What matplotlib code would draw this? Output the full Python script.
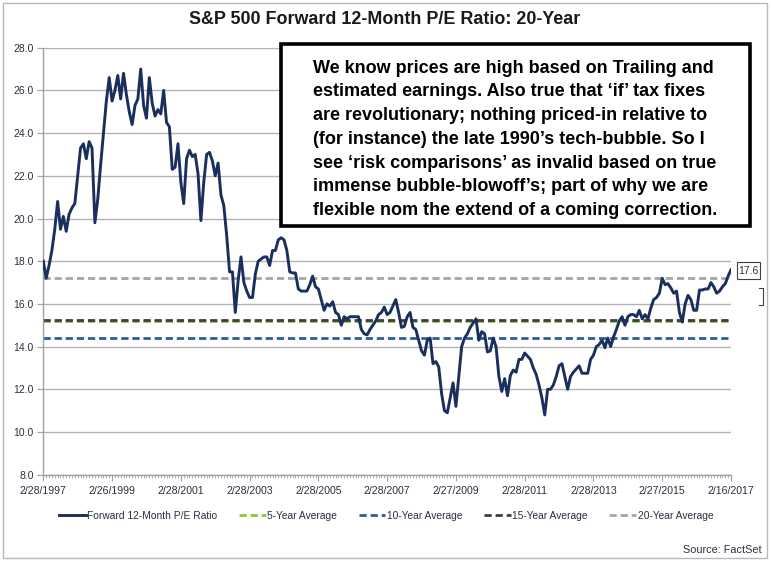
import matplotlib
matplotlib.use("Agg")
import matplotlib.pyplot as plt
from matplotlib.patches import Rectangle
from matplotlib.lines import Line2D

# monthly forward P/E, 2/28/1997 .. 2/16/2017
pe = [
    18.0, 17.2, 17.8, 18.5, 19.5, 20.8, 19.5, 20.1, 19.4, 20.2,
    20.5, 20.7, 22.0, 23.3, 23.5, 22.8, 23.6, 23.3, 19.8, 20.9,
    22.5, 24.0, 25.5, 26.6, 25.5, 26.0, 26.7, 25.6, 26.8, 25.8,
    25.0, 24.4, 25.3, 25.6, 27.0, 25.3, 24.7, 26.6, 25.4, 24.8,
    25.1, 24.9, 26.0, 24.5, 24.3, 22.3, 22.4, 23.5, 21.7, 20.7,
    22.8, 23.2, 22.9, 23.0, 22.1, 19.9, 21.7, 23.0, 23.1, 22.7,
    22.0, 22.6, 21.1, 20.6, 19.2, 17.5, 17.5, 15.6, 17.1, 18.2,
    17.0, 16.6, 16.3, 16.3, 17.4, 18.0, 18.1, 18.2, 18.2, 17.8,
    18.5, 18.5, 19.0, 19.1, 19.0, 18.5, 17.5, 17.45, 17.45, 16.7,
    16.6, 16.6, 16.6, 16.9, 17.3, 16.8, 16.7, 16.2, 15.7, 16.0,
    15.9, 16.1, 15.6, 15.5, 15.0, 15.4, 15.3, 15.4, 15.4, 15.4,
    15.4, 14.8, 14.6, 14.55, 14.8, 15.0, 15.2, 15.5, 15.6, 15.85,
    15.5, 15.6, 15.9, 16.2, 15.6, 14.9, 14.95, 15.4, 15.6, 14.9,
    14.8, 14.3, 13.8, 13.6, 14.3, 14.4, 13.2, 13.3, 13.05, 11.8,
    11.0, 10.9, 11.6, 12.3, 11.2, 12.6, 14.0, 14.4, 14.6, 14.9,
    15.1, 15.3, 14.3, 14.7, 14.6, 13.75, 13.8, 14.4, 14.0, 12.6,
    11.9, 12.5, 11.7, 12.65, 12.9, 12.8, 13.4, 13.4, 13.7, 13.55,
    13.4, 13.0, 12.7, 12.2, 11.6, 10.8, 12.0, 12.0, 12.2, 12.6,
    13.1, 13.2, 12.6, 12.0, 12.6, 12.8, 12.95, 13.1, 12.75, 12.75,
    12.75, 13.4, 13.6, 14.0, 14.1, 14.3, 13.95, 14.4, 14.0, 14.45,
    14.8, 15.2, 15.4, 15.0, 15.4, 15.5, 15.5, 15.4, 15.7, 15.3,
    15.5, 15.3, 15.8, 16.2, 16.3, 16.5, 17.2, 16.9, 16.95, 16.75,
    16.5, 16.6, 15.6, 15.15, 16.0, 16.4, 16.2, 15.7, 15.7, 16.65,
    16.65, 16.7, 16.7, 17.0, 16.8, 16.5, 16.6, 16.8, 16.95, 17.3,
    17.6,
]

avg_names = ["5-Year Average", "10-Year Average", "15-Year Average", "20-Year Average"]
avg_values = [15.19, 14.4, 15.25, 17.2]
avg_colors = ["#8cc63f", "#2e5c9a", "#3f3f3f", "#a6a6a6"]

tick_labels = ["2/28/1997", "2/26/1999", "2/28/2001", "2/28/2003", "2/28/2005",
               "2/28/2007", "2/27/2009", "2/28/2011", "2/28/2013", "2/27/2015",
               "2/16/2017"]
y_ticks = [8, 10, 12, 14, 16, 18, 20, 22, 24, 26, 28]

note = ("We know prices are high based on Trailing and\n"
        "estimated earnings. Also true that \u2018if\u2019 tax fixes\n"
        "are revolutionary; nothing priced-in relative to\n"
        "(for instance) the late 1990\u2019s tech-bubble. So I\n"
        "see \u2018risk comparisons\u2019 as invalid based on true\n"
        "immense bubble-blowoff\u2019s; part of why we are\n"
        "flexible nom the extend of a coming correction.")

plt.rcParams['font.family'] = ["Liberation Sans", "DejaVu Sans"]
label_col = "#2a2f3f"

W, H = 771, 564
fig = plt.figure(figsize=(W / 100, H / 100), dpi=100)
ax = fig.add_axes([43.3 / W, 1 - 474.7 / H, (731 - 43.3) / W, (474.7 - 47.7) / H])

n = len(pe)
x = list(range(n))

# average lines first, main series on top
handles = {}
for k in [0, 2, 1, 3]:
    ln, = ax.plot([0, n - 1], [avg_values[k]] * 2, color=avg_colors[k], lw=2.0,
                  dashes=(2.6, 1.4), zorder=2)
    handles[k] = ln
main, = ax.plot(x, pe, color="#1b2f5e", lw=2.1, zorder=3, solid_joinstyle="round")

ax.set_xlim(0, n - 1)
ax.set_ylim(8, 28)
ax.set_yticks(y_ticks)
ax.set_yticklabels([f"{v:.1f}" for v in y_ticks])
ax.set_xticks(range(0, n, 24))
ax.set_xticklabels(tick_labels)
ax.set_xticks(range(n), minor=True)
ax.yaxis.grid(True, color="#b3b3b3", lw=1.0)
ax.set_axisbelow(True)
for s in ["top", "right"]:
    ax.spines[s].set_visible(False)
for s in ["left", "bottom"]:
    ax.spines[s].set_color("#a0a0a0")
    ax.spines[s].set_linewidth(1.0)
ax.tick_params(axis="y", length=4, color="#a0a0a0", labelsize=7.5,
               labelcolor=label_col, pad=3)
ax.tick_params(axis="x", which="major", length=4, color="#a0a0a0", labelsize=7.6,
               labelcolor=label_col, pad=4)
ax.tick_params(axis="x", which="minor", length=2.5, color="#a0a0a0", width=0.6)

fig.text(385 / W, 1 - 20 / H, "S&P 500 Forward 12-Month P/E Ratio: 20-Year",
         ha="center", va="center", fontsize=12.9, fontweight="bold", color="#1a1a1a")

# legend
leg_handles = [main] + [handles[k] for k in range(4)]
leg_labels = ["Forward 12-Month P/E Ratio"] + avg_names
fig.legend(leg_handles, leg_labels, loc="center", ncol=5,
           bbox_to_anchor=(386 / W, 1 - 516 / H), frameon=False,
           prop={"size": 7.4}, handlelength=2.6,
           handletextpad=0.15, columnspacing=2.1, labelcolor=label_col)

fig.text(762 / W, 1 - 550 / H, "Source: FactSet", ha="right", va="center",
         fontsize=7.8, color=label_col)

# outer frame
fig.add_artist(Rectangle((3 / W, 1 - 558 / H), 764 / W, 555 / H, transform=fig.transFigure,
                         fill=False, ec="#b8b8b8", lw=1.0))

# annotation box
fig.add_artist(Rectangle((281 / W, 1 - 226 / H), (750 - 281) / W, (226 - 44) / H,
                         transform=fig.transFigure, fc="white", ec="black", lw=2.6, zorder=5))
fig.text(312.7 / W, 1 - 59.5 / H, note, ha="left", va="top", fontsize=13,
         fontweight="bold", color="black", linespacing=1.52, zorder=6)

# last value label
fig.add_artist(Rectangle((736.5 / W, 1 - 279 / H), 23.5 / W, 17 / H, transform=fig.transFigure,
                         fill=False, ec="#404040", lw=0.8))
fig.text(748 / W, 1 - 270.5 / H, f"{pe[-1]:.1f}", ha="center", va="center",
         fontsize=7.5, color="#3a3020")
fig.add_artist(Line2D([759 / W, 763 / W, 763 / W, 759 / W],
                      [1 - 288 / H, 1 - 288 / H, 1 - 305 / H, 1 - 305 / H],
                      transform=fig.transFigure, color="#404040", lw=0.8))

fig.savefig("out.png", dpi=100)
